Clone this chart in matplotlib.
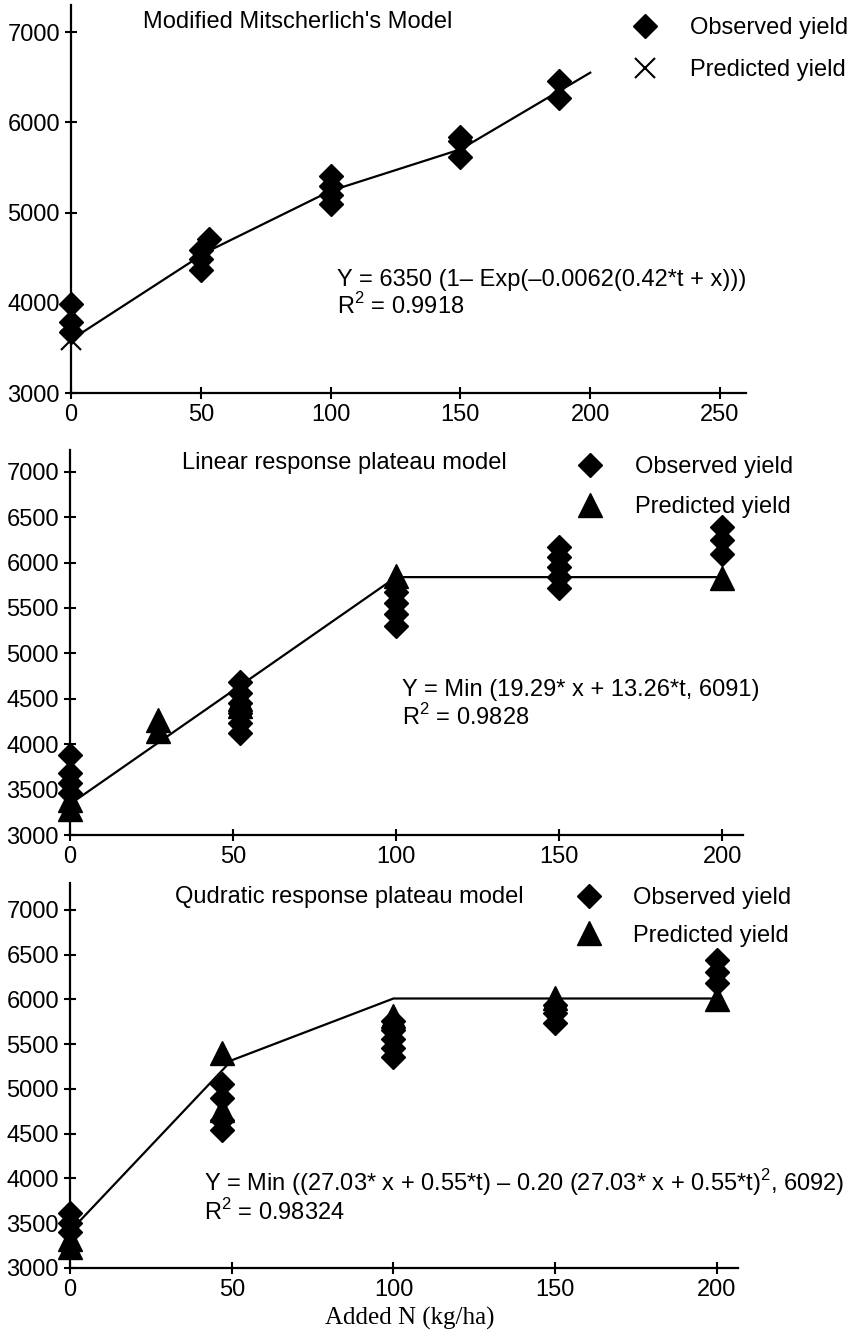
import matplotlib
matplotlib.use('Agg')
import matplotlib.pyplot as plt

plt.rcParams['font.family'] = ['Liberation Sans', 'DejaVu Sans']
plt.rcParams['mathtext.fontset'] = 'custom'
plt.rcParams['mathtext.rm'] = 'Liberation Sans'

# panel 1 - Modified Mitscherlich's model
p1_obs_x = [0, 0, 0, 50, 50, 50, 53, 100, 100, 100, 100, 150, 150, 150, 188, 188]
p1_obs_y = [3990, 3790, 3680, 4360, 4480, 4580, 4710, 5400, 5290, 5190, 5100,
            5840, 5790, 5610, 6460, 6270]
p1_pred_x = [0]
p1_pred_y = [3590]
p1_line_x = [0, 52, 100, 150, 200]
p1_line_y = [3590, 4560, 5240, 5700, 6550]

# panel 2 - linear response plateau
p2_obs_x = [0, 0, 0, 0, 52, 52, 52, 52, 52, 52, 100, 100, 100, 100,
            150, 150, 150, 150, 150, 200, 200, 200]
p2_obs_y = [3880, 3680, 3570, 3460, 4690, 4560, 4450, 4340, 4230, 4120,
            5680, 5550, 5430, 5300, 6170, 6060, 5950, 5840, 5720, 6390, 6250, 6100]
p2_pred_x = [0, 0, 27, 27, 52, 52, 100, 200]
p2_pred_y = [3380, 3290, 4270, 4140, 4500, 4420, 5850, 5830]
p2_line_x = [0, 100, 200]
p2_line_y = [3340, 5840, 5840]

# panel 3 - quadratic response plateau
p3_obs_x = [0, 0, 0, 47, 47, 47, 47, 100, 100, 100, 100, 100, 150, 150, 150, 200, 200, 200]
p3_obs_y = [3610, 3500, 3400, 5050, 4900, 4650, 4540, 5760, 5660, 5560, 5460, 5360,
            5940, 5850, 5740, 6440, 6310, 6180]
p3_pred_x = [0, 0, 47, 47, 100, 150, 200]
p3_pred_y = [3320, 3240, 5400, 4770, 5820, 6020, 6010]
p3_line_x = [0, 50, 100, 200]
p3_line_y = [3410, 5320, 6010, 6010]

W, H = 859, 1336
fig = plt.figure(figsize=(W / 100, H / 100), dpi=100)

def box(l, r, t, b):
    return [l / W, 1 - b / H, (r - l) / W, (b - t) / H]

panels = [
    dict(rect=box(71, 746, 5, 393), xlim=260, ylim=7300, yticks=[3000, 4000, 5000, 6000, 7000],
         xticks=[0, 50, 100, 150, 200, 250],
         obs=(p1_obs_x, p1_obs_y), pred=(p1_pred_x, p1_pred_y), line=(p1_line_x, p1_line_y),
         pmark='x', title="Modified Mitscherlich's Model", tpos=(0.107, 0.956),
         eq="Y = 6350 (1\u2013 Exp(\u20130.0062(0.42*t + x)))", R2="0.9918",
         epos=(0.394, 0.291, 0.224), leg=(0.829, 0.886), ls=0.85),
    dict(rect=box(70, 743, 450, 835), xlim=206.4, ylim=7240,
         yticks=[3000, 3500, 4000, 4500, 5000, 5500, 6000, 6500, 7000],
         xticks=[0, 50, 100, 150, 200],
         obs=(p2_obs_x, p2_obs_y), pred=(p2_pred_x, p2_pred_y), line=(p2_line_x, p2_line_y),
         pmark='^', title="Linear response plateau model", tpos=(0.166, 0.966),
         eq="Y = Min (19.29* x + 13.26*t, 6091)", R2="0.9828",
         epos=(0.493, 0.377, 0.306), leg=(0.752, 0.904), ls=0.75),
    dict(rect=box(70, 738, 883, 1268), xlim=206.5, ylim=7300,
         yticks=[3000, 3500, 4000, 4500, 5000, 5500, 6000, 6500, 7000],
         xticks=[0, 50, 100, 150, 200],
         obs=(p3_obs_x, p3_obs_y), pred=(p3_pred_x, p3_pred_y), line=(p3_line_x, p3_line_y),
         pmark='^', title="Qudratic response plateau model", tpos=(0.157, 0.964),
         eq="Y = Min ((27.03* x + 0.55*t) \u2013 0.20 (27.03* x + 0.55*t)$^{\\mathrm{2}}$, 6092)",
         R2="0.98324", epos=(0.2, 0.221, 0.146), leg=(0.755, 0.912), ls=0.65),
]

fs = 17
for p in panels:
    ax = fig.add_axes(p['rect'])
    ax.set_xlim(0, p['xlim'])
    ax.set_ylim(3000, p['ylim'])
    for s in ['top', 'right']:
        ax.spines[s].set_visible(False)
    for s in ['left', 'bottom']:
        ax.spines[s].set_linewidth(1.6)
    ax.set_xticks(p['xticks'])
    ax.set_yticks(p['yticks'])
    ax.tick_params(direction='inout', length=8, width=1.5, labelsize=fs, pad=4)
    ax.plot(p['line'][0], p['line'][1], color='black', lw=1.6, zorder=2)
    ho, = ax.plot(p['obs'][0], p['obs'][1], linestyle='none', marker='D', ms=12.5,
                  color='black', clip_on=False, zorder=3, label='Observed yield')
    if p['pmark'] == 'x':
        hp, = ax.plot(p['pred'][0], p['pred'][1], linestyle='none', marker='x', ms=14,
                      mew=1.5, color='black', clip_on=False, zorder=4, label='Predicted yield')
    else:
        hp, = ax.plot(p['pred'][0], p['pred'][1], linestyle='none', marker='^', ms=17,
                      color='black', clip_on=False, zorder=4, label='Predicted yield')
    ax.text(p['tpos'][0], p['tpos'][1], p['title'], transform=ax.transAxes,
            fontsize=fs, ha='left', va='center')
    ex, ey, ry = p['epos']
    ax.text(ex, ey, p['eq'], transform=ax.transAxes, fontsize=fs, ha='left', va='center')
    ax.text(ex, ry, 'R$^{\\mathrm{2}}$ = ' + p['R2'], transform=ax.transAxes,
            fontsize=fs, ha='left', va='center')
    ax.legend(handles=[ho, hp], loc='center left', bbox_to_anchor=p['leg'],
              frameon=False, fontsize=fs, numpoints=1, handlelength=1.2,
              handletextpad=1.3, labelspacing=p['ls'], borderpad=0, borderaxespad=0)

fig.text(410 / W, 1 - 1318 / H, 'Added N (kg/ha)', family=['Liberation Serif', 'DejaVu Serif'],
         fontsize=18, ha='center', va='center')

fig.savefig('out.png', dpi=100)
